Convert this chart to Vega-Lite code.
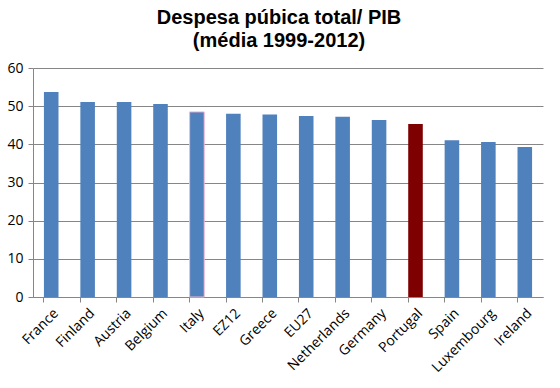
{
  "$schema": "https://vega.github.io/schema/vega-lite/v6.json",
  "width": 510,
  "height": 229,
  "autosize": {"type": "none"},
  "padding": {"left": 33, "top": 68, "right": 17, "bottom": 91},
  "background": "white",
  "title": {
    "text": ["Despesa púbica total/ PIB", "(média 1999-2012)"],
    "font": "Liberation Sans",
    "fontSize": 20,
    "fontWeight": "bold",
    "lineHeight": 23,
    "color": "black",
    "anchor": "middle",
    "dx": -9,
    "offset": 10
  },
  "data": {
    "values": [
      {"country": "France", "value": 53.7},
      {"country": "Finland", "value": 51.1},
      {"country": "Austria", "value": 51.1},
      {"country": "Belgium", "value": 50.6},
      {"country": "Italy", "value": 48.5},
      {"country": "EZ12", "value": 48.0},
      {"country": "Greece", "value": 47.8},
      {"country": "EU27", "value": 47.4},
      {"country": "Netherlands", "value": 47.2},
      {"country": "Germany", "value": 46.4},
      {"country": "Portugal", "value": 45.3},
      {"country": "Spain", "value": 41.1},
      {"country": "Luxembourg", "value": 40.6},
      {"country": "Ireland", "value": 39.3}
    ]
  },
  "config": {
    "view": {"stroke": null},
    "axis": {"labelFont": "Open Sans", "labelFontSize": 14, "labelColor": "black"}
  },
  "mark": {"type": "bar"},
  "encoding": {
    "x": {
      "field": "country",
      "type": "nominal",
      "sort": null,
      "scale": {"paddingInner": 0.6, "paddingOuter": 0.3},
      "axis": {
        "title": null,
        "labelAngle": -45,
        "labelAlign": "right",
        "labelBaseline": "top",
        "labelPadding": 4,
        "bandPosition": 0,
        "domainColor": "#868686",
        "tickColor": "#868686",
        "tickSize": 5
      }
    },
    "y": {
      "field": "value",
      "type": "quantitative",
      "scale": {"domain": [0, 60]},
      "axis": {
        "title": null,
        "values": [0, 10, 20, 30, 40, 50, 60],
        "gridColor": "#868686",
        "gridOpacity": 1,
        "domainColor": "#868686",
        "tickColor": "#868686",
        "tickSize": 5,
        "labelPadding": 5
      }
    },
    "color": {
      "condition": {"test": "datum.country === 'Portugal'", "value": "#7F0000"},
      "value": "#4F81BD"
    },
    "stroke": {
      "condition": {"test": "datum.country === 'Italy'", "value": "#F4B6D2"},
      "value": null
    }
  }
}
